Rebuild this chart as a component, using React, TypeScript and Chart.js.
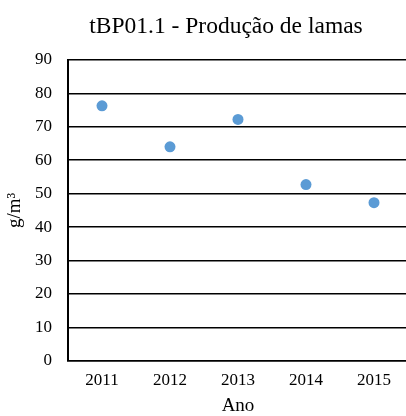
import React, { useEffect, useRef } from "react";
import { Chart, registerables } from "chart.js";

Chart.register(...registerables);

const categories = ["2011", "2012", "2013", "2014", "2015"];
const values = [76.3, 64.0, 72.2, 52.7, 47.3];
const yTicks = [0, 10, 20, 30, 40, 50, 60, 70, 80, 90];
const titleText = "tBP01.1 - Produção de lamas";
const xTitle = "Ano";
const yTitle = "g/m³";

const FONT = "'Liberation Serif', 'Times New Roman', serif";

export default function App() {
  const ref = useRef<HTMLCanvasElement>(null);

  useEffect(() => {
    if (!ref.current) return;
    const chart = new Chart(ref.current, {
      type: "line",
      data: {
        labels: categories,
        datasets: [
          {
            data: values,
            showLine: false,
            pointRadius: 5.5,
            pointHoverRadius: 5.5,
            pointBackgroundColor: "#5B9BD5",
            pointBorderWidth: 0,
            borderColor: "#5B9BD5",
            backgroundColor: "#5B9BD5",
          },
        ],
      },
      options: {
        responsive: false,
        animation: false,
        devicePixelRatio: 1,
        layout: { padding: 0 },
        plugins: {
          legend: { display: false },
          tooltip: { enabled: false },
          title: {
            display: true,
            text: titleText,
            color: "#000",
            font: { family: FONT, size: 23.5, weight: "normal", lineHeight: 1.2 },
            padding: { top: 13, bottom: 18.8 },
          },
        },
        scales: {
          x: {
            type: "category",
            offset: true,
            grid: { display: false, drawTicks: false },
            border: { display: true, color: "#000", width: 1.5 },
            ticks: {
              color: "#000",
              font: { family: FONT, size: 17 },
              padding: 10,
              maxRotation: 0,
            },
            title: {
              display: true,
              text: xTitle,
              color: "#000",
              font: { family: FONT, size: 19, lineHeight: 1 },
              padding: { top: 0, bottom: 0 },
            },
            afterFit: (s: any) => {
              s.height = 55.3;
            },
          },
          y: {
            type: "linear",
            position: "left",
            min: 0,
            max: 90,
            afterBuildTicks: (s: any) => {
              s.ticks = yTicks.map((v) => ({ value: v }));
            },
            grid: { color: "#000", lineWidth: 1.5, drawTicks: false },
            border: { display: true, color: "#000", width: 2 },
            ticks: {
              color: "#000",
              font: { family: FONT, size: 17 },
              padding: 16,
            },
            title: {
              display: true,
              text: yTitle,
              color: "#000",
              font: { family: FONT, size: 19, lineHeight: 1 },
              padding: { top: 5.5, bottom: 0 },
            },
            afterFit: (s: any) => {
              s.width = 68;
            },
          },
          y2: {
            type: "linear",
            position: "right",
            display: true,
            grid: { display: false, drawTicks: false },
            border: { display: false },
            ticks: { display: false },
            afterFit: (s: any) => {
              s.width = 44;
            },
          },
        },
      },
    });
    return () => chart.destroy();
  }, []);

  return (
    <div
      style={{
        position: "fixed",
        left: 0,
        top: 0,
        width: 406,
        height: 416,
        overflow: "hidden",
        background: "#fff",
      }}
    >
      <canvas ref={ref} width={452} height={416} style={{ display: "block" }} />
    </div>
  );
}
